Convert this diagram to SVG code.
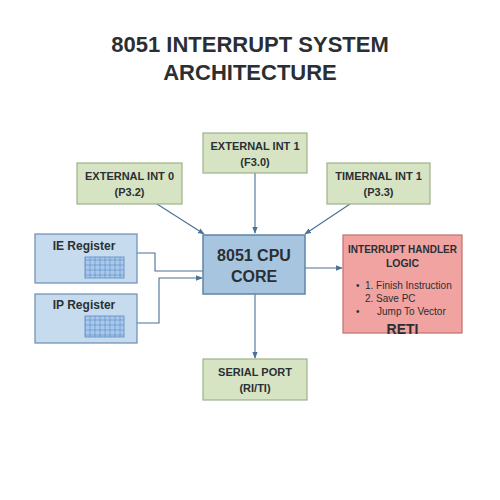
<svg xmlns="http://www.w3.org/2000/svg" width="500" height="500" viewBox="0 0 500 500">
<defs>
<style>
.t{font-family:"Liberation Sans",Arial,sans-serif;fill:#2b2f33;text-anchor:middle}
.s{text-anchor:start}
.b{font-weight:bold}
.g{fill:#d6e4c4;stroke:#9db18a;stroke-width:1.2}
.bl{fill:#c7dbee;stroke:#6a8db3;stroke-width:1.2}
.cpu{fill:#a7c5df;stroke:#5f84a8;stroke-width:1.5}
.h{fill:#f0a3a0;stroke:#c2706c;stroke-width:1.2}
.c{fill:none;stroke:#4a7096;stroke-width:1.1}
</style>
<marker id="ar" viewBox="0 0 10 10" refX="9" refY="5" markerWidth="6" markerHeight="6" orient="auto">
<path d="M0,1 L10,5 L0,9 z" fill="#4a7096"/>
</marker>
<pattern id="gp" width="5" height="5" patternUnits="userSpaceOnUse">
<rect width="5" height="5" fill="#a9c9ec" stroke="#5a89c0" stroke-width="0.6"/>
</pattern>
</defs>
<rect width="500" height="500" fill="#ffffff"/>
<g id="title">
<text class="t b" x="250" y="52" font-size="22">8051 INTERRUPT SYSTEM</text>
<text class="t b" x="250" y="80" font-size="22">ARCHITECTURE</text>
</g>
<g id="connectors">
<path class="c" d="M157,204 L204,234" marker-end="url(#ar)"/>
<path class="c" d="M255,173 L255,233" marker-end="url(#ar)"/>
<path class="c" d="M350,204 L305,234" marker-end="url(#ar)"/>
<path class="c" d="M137,253 L155,253 L155,271 L203,271"/>
<path class="c" d="M137,323 L159,323 L159,278 L202,278" marker-end="url(#ar)"/>
<path class="c" d="M305,268 L342,268" marker-end="url(#ar)"/>
<path class="c" d="M255,294 L255,358" marker-end="url(#ar)"/>
</g>
<g id="ext0">
<rect class="g" x="77" y="163" width="105" height="41"/>
<text class="t b" x="129.5" y="180" font-size="11">EXTERNAL INT 0</text>
<text class="t b" x="129.5" y="196" font-size="11">(P3.2)</text>
</g>
<g id="ext1">
<rect class="g" x="203" y="133" width="104" height="40"/>
<text class="t b" x="255" y="150" font-size="11">EXTERNAL INT 1</text>
<text class="t b" x="255" y="166" font-size="11">(F3.0)</text>
</g>
<g id="timernal">
<rect class="g" x="327" y="163" width="103" height="41"/>
<text class="t b" x="378.5" y="180" font-size="11">TIMERNAL INT 1</text>
<text class="t b" x="378.5" y="196" font-size="11">(P3.3)</text>
</g>
<g id="ie">
<rect class="bl" x="35" y="234" width="102" height="49"/>
<text class="t b" x="84" y="250" font-size="12">IE Register</text>
<rect x="85" y="257" width="39" height="21" fill="url(#gp)" stroke="#5a89c0" stroke-width="0.8"/>
</g>
<g id="ip">
<rect class="bl" x="35" y="294" width="102" height="49"/>
<text class="t b" x="84" y="309" font-size="12">IP Register</text>
<rect x="85" y="316" width="39" height="21" fill="url(#gp)" stroke="#5a89c0" stroke-width="0.8"/>
</g>
<g id="cpu">
<rect class="cpu" x="203" y="235" width="102" height="59"/>
<text class="t b" x="254" y="261" font-size="16">8051 CPU</text>
<text class="t b" x="254" y="282" font-size="16">CORE</text>
</g>
<g id="handler">
<rect class="h" x="343" y="235" width="119" height="98"/>
<text class="t b" x="402.5" y="253" font-size="10">INTERRUPT HANDLER</text>
<text class="t b" x="402.5" y="267" font-size="10.5">LOGIC</text>
<text class="t s" x="356" y="289" font-size="10">•</text>
<text class="t s" x="365" y="289" font-size="10">1. Finish Instruction</text>
<text class="t s" x="365" y="302" font-size="10">2. Save PC</text>
<text class="t s" x="356" y="315" font-size="10">•</text>
<text class="t s" x="377" y="315" font-size="10">Jump To Vector</text>
<text class="t b" x="402.5" y="334" font-size="14">RETI</text>
</g>
<g id="serial">
<rect class="g" x="203" y="359" width="104" height="41"/>
<text class="t b" x="255" y="376" font-size="11">SERIAL PORT</text>
<text class="t b" x="255" y="392" font-size="11">(RI/TI)</text>
</g>
</svg>
